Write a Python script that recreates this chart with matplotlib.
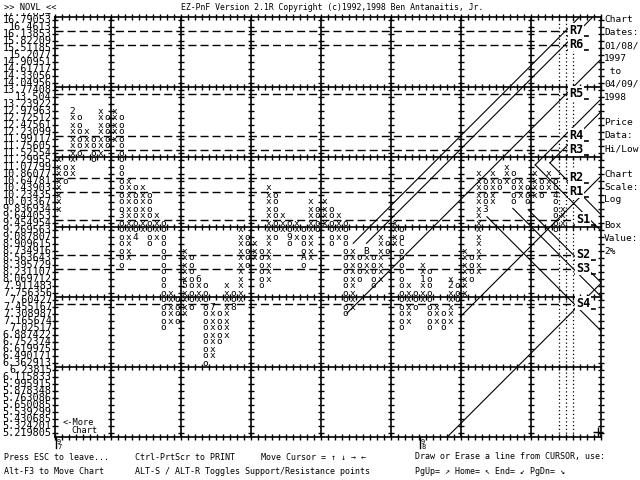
import matplotlib
matplotlib.use('Agg')
from matplotlib import pyplot as plt
from matplotlib.transforms import Bbox, TransformedBbox

MONO = 'DejaVu Sans Mono'
plt.rcParams['font.family'] = [MONO, 'DejaVu Sans']

# price scale, one label per 2% box, bottom row first
price_labels = ['5.219805', '5.324201', '5.430685', '5.539299', '5.650085',
                '5.763086', '5.878348', '5.995915', '6.115833', '6.23815',
                '6.362913', '6.490171', '6.619975', '6.752374', '6.887422',
                '7.02517', '7.165674', '7.308987', '7.455167', '7.60427',
                '7.756356', '7.911483', '8.069712', '8.231107', '8.395729',
                '8.563643', '8.734916', '8.909615', '9.087807', '9.269563',
                '9.454954', '9.644053', '9.836934', '10.03367', '10.23435',
                '10.43903', '10.64781', '10.86077', '11.07799', '11.29955',
                '11.52554', '11.75605', '11.99117', '12.23099', '12.47561',
                '12.72512', '12.97963', '13.23922', '13.504', '13.77408',
                '14.04956', '14.33056', '14.61717', '14.90951', '15.2077',
                '15.51185', '15.82209', '16.13853', '16.4613', '16.79053']
top_label = '17.12634'   # half hidden under the title line

# point & figure columns (box rows, 0 = bottom label)
col_kind = 'XOXOXOXOXOXOXOXOXOXOXOXOXOXOXOXOXOXOXOXOXOXOXOXOXOXOXOXOXOXOXOXOXOXOXOXOX'
col_low = [32, 36, 37, 40, 41, 39, 40, 41, 42, 24,
           25, 28, 29, 27, 28, 15, 16, 16, 17, 18,
           19, 10, 11, 13, 14, 18, 19, 24, 25, 21,
           22, 28, 29, 27, 28, 24, 25, 29, 30, 27,
           28, 17, 18, 22, 23, 21, 22, 26, 27, 15,
           16, 18, 19, 15, 16, 15, 16, 19, 20, 22,
           23, 32, 33, 35, 36, 33, 34, 33, 34, 34,
           35, 29, 30]
col_high = [39, 38, 46, 45, 43, 42, 46, 45, 46, 45,
            36, 35, 35, 34, 31, 30, 20, 19, 26, 25,
            22, 21, 18, 17, 21, 20, 29, 28, 27, 26,
            35, 34, 31, 30, 30, 29, 33, 32, 33, 32,
            31, 30, 26, 25, 26, 25, 28, 27, 30, 29,
            21, 20, 24, 23, 18, 17, 22, 21, 26, 25,
            37, 36, 37, 36, 38, 37, 36, 35, 37, 36,
            37, 36, 32]

# month codes written in place of a box
month_col = [2, 9, 11, 18, 20, 22, 25, 33, 35, 44, 49, 52, 56, 61, 71]
month_row = [46, 31, 28, 21, 22, 18, 18, 28, 25, 26, 27, 22, 21, 32, 34]
month_txt = ['2', '3', '4', '5', '6', '7', '8', '9', 'A', 'B', 'C', '1', '2', '3', '4']

year_col = [0, 52]
year_txt = ['9\n7', '9\n8']

# support / resistance levels
sr_names = ['R7', 'R6', 'R5', 'R4', 'R3', 'R2', 'R1', 'S1', 'S2', 'S3', 'S4']
sr_rows = [57.5, 55.5, 48.5, 42.5, 40.5, 36.5, 34.5, 30.5, 25.5, 23.5, 18.5]

# hand drawn trend lines, (col, row) -> (col, row)
trend_c0 = [41.2, 42.1, 44.0, 57.4, 55.6, 68.1, 70.2, 61.2, 64.9, 67.1, 68.1, 70.2]
trend_r0 = [17.1, 27.1, 27.1, 16.6, -0.5, 38.3, 38.6, 30.9, 32.1, 31.9, 38.3, 38.6]
trend_c1 = [77.5, 74.5, 76.4, 77.5, 77.5, 77.5, 77.5, 77.5, 77.5, 77.5, 77.5, 77.5]
trend_r1 = [53.4, 59.5, 59.5, 36.7, 21.4, 47.7, 45.9, 14.6, 19.5, 21.5, 28.9, 31.2]

cursor_cols = [71.5, 72.5, 73.5]

info_lines = ['Chart', 'Dates:', '01/08/', '1997', ' to', '04/09/', '1998', '',
              'Price', 'Data:', 'Hi/Low', '', 'Chart', 'Scale:', 'Log', '',
              'Box', 'Value:', '2%']

n_cols = len(col_low)
n_rows = len(price_labels)

fig = plt.figure(figsize=(6.4, 4.8), dpi=100)
ax = fig.add_axes([55 / 640, 43.5 / 480, 546 / 640, 420 / 480])
ax.set_xlim(-0.5, 77.5)
ax.set_ylim(-0.5, n_rows - 0.5)
ax.set_xticks([])
ax.set_yticks([])
for s in ax.spines.values():
    s.set_linewidth(1.2)

renderer = fig.canvas.get_renderer()
row_px = ax.transData.transform((0, 1))[1] - ax.transData.transform((0, 0))[1]


def spacing_for(size):
    # line spacing that puts consecutive text lines exactly one box apart
    hs = []
    for ls in (1.0, 2.0):
        t1 = fig.text(0, 0, 'x', fontsize=size, linespacing=ls)
        t2 = fig.text(0, 0, 'x\nx', fontsize=size, linespacing=ls)
        hs.append(t2.get_window_extent(renderer).height - t1.get_window_extent(renderer).height)
        t1.remove()
        t2.remove()
    b = hs[1] - hs[0]
    a = hs[0] - b
    return (row_px - a) / b


# price labels as one block, one line per box; the top one is cut by the title line
lab_size = 7.3
all_labels = [top_label] + price_labels[::-1]
t = ax.text(-0.5 - 3.2 / 7, n_rows / 2, '\n'.join(all_labels), ha='right',
            va='center', multialignment='right', fontsize=lab_size,
            linespacing=spacing_for(lab_size))
t.set_clip_path(None)
t.set_clip_box(TransformedBbox(Bbox([[0, 0], [1, 467.5 / 480]]), fig.transFigure))
t.set_clip_on(True)

# major grid every 10 boxes, with a tick on every box
vcols = [-0.5] + [7.5 + 10 * k for k in range(7)] + [77.5]
hrows = [-0.5] + [9.5 + 10 * k for k in range(5)] + [59.5]
for c in vcols[1:-1]:
    ax.axvline(c, color='k', lw=1.2)
for r in hrows[1:-1]:
    ax.axhline(r, color='k', lw=1.2)
for c in vcols:
    ax.plot([c] * n_rows, range(n_rows), ls='none', marker='_', ms=4, mew=1, color='k', clip_on=False)
for r in hrows:
    ax.plot([k + 0.5 for k in range(-1, 78)], [r] * 79, ls='none', marker='|', ms=4, mew=1,
            color='k', clip_on=False)

# dotted cursor columns
ax.vlines(cursor_cols, -0.5, n_rows - 0.5, colors='k', lw=0.9, linestyles=(0, (1, 2)))

# support / resistance dashed lines and labels
for name, r in zip(sr_names, sr_rows):
    lx = 72.9 if name[0] == 'R' else 73.9
    ax.hlines(r, -0.5, lx - 0.3, colors='k', lw=1, linestyles=(0, (5.8, 2.9)))
    ax.text(lx, r + 0.05, name, ha='left', va='center', fontsize=8.5, fontweight='bold',
            bbox=dict(facecolor='white', edgecolor='none', pad=0.6))
    ax.plot([lx - 0.1, lx + 2.7], [r - 0.8, r - 0.8], color='k', lw=1.2)

# trend lines
for c0, r0, c1, r1 in zip(trend_c0, trend_r0, trend_c1, trend_r1):
    ax.plot([c0, c1], [r0, r1], color='k', lw=0.8)

# the X / O boxes, one text block per column
box_size = 6.8
box_ls = spacing_for(box_size)
marks = {(c, r): m for c, r, m in zip(month_col, month_row, month_txt)}
for c in range(n_cols):
    rows = range(col_high[c], col_low[c] - 1, -1)
    s = '\n'.join(marks.get((c, r), col_kind[c].lower()) for r in rows)
    ax.text(c, (col_high[c] + col_low[c]) / 2, s, ha='center', va='center',
            multialignment='center', fontsize=box_size, linespacing=box_ls)

# year marks under the chart
for c, y in zip(year_col, year_txt):
    ax.text(c + 0.1, -0.8, y, ha='center', va='top', fontsize=5, linespacing=0.85)
    ax.plot([c - 0.4, c - 0.4], [-0.5, -2.2], color='k', lw=1, clip_on=False)

ax.text(0.65, 1.45, '<-More', ha='left', va='center', fontsize=6.2)
ax.text(1.8, 0.35, 'Chart', ha='left', va='center', fontsize=6.2)
ax.plot([77.05], [0.15], marker='+', ms=7, mew=1, color='k', clip_on=False)

# header
fig.text(4 / 640, 1 - 7.5 / 480, '>> NOVL <<', fontsize=6.3, va='center')
fig.text(181 / 640, 1 - 7.5 / 480, 'EZ-PnF Version 2.1R Copyright (c)1992,1998 Ben Antanaitis, Jr.',
         fontsize=5.9, va='center')

# info panel on the right
for i, s in enumerate(info_lines):
    if s:
        fig.text(604 / 640, 1 - (20 + 12.85 * i) / 480, s, fontsize=6.8, va='center')

# key help at the bottom
help_x = [4, 135, 261, 415]
help_1 = ['Press ESC to leave...', 'Ctrl-PrtScr to PRINT', 'Move Cursor = \u2191 \u2193 \u2192 \u2190',
          'Draw or Erase a line from CURSOR, use:']
help_2 = ['Alt-F3 to Move Chart', 'ALT-S / ALT-R Toggles Support/Resistance points', '',
          'PgUp= \u2197 Home= \u2196 End= \u2199 PgDn= \u2198']
for x, s in zip(help_x, help_1):
    fig.text(x / 640, 1 - 457 / 480, s, fontsize=6, va='center')
for x, s in zip(help_x, help_2):
    if s:
        fig.text(x / 640, 1 - 471 / 480, s, fontsize=6, va='center')

fig.savefig('out.png', dpi=100)
